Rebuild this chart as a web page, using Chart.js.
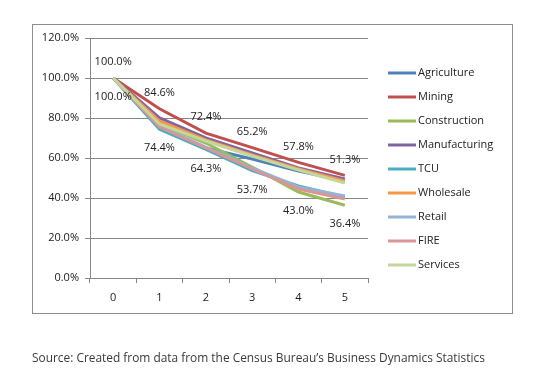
<!DOCTYPE html>
<html>
<head>
<meta charset="utf-8">
<script src="https://cdn.jsdelivr.net/npm/chart.js@4.4.0/dist/chart.umd.min.js"></script>
<style>
  html, body { margin: 0; padding: 0; background: #fff; }
  #wrap { position: relative; width: 548px; height: 376px; }
  #chart { position: absolute; left: 0; top: 0; }
  #source {
    position: absolute; left: 32px; top: 349px;
    font-family: "Open Sans", sans-serif; font-size: 11.9px; color: #3a3a3a;
    white-space: nowrap;
  }
</style>
</head>
<body>
<div id="wrap">
  <canvas id="chart" width="548" height="376"></canvas>
  <div id="source">Source: Created from data from the Census Bureau’s Business Dynamics Statistics</div>
</div>
<script>
const years = ['0', '1', '2', '3', '4', '5'];

const agriculture   = [100, 75.5, 65.0, 59.5, 53.5, 48.5];
const mining        = [100, 84.6, 72.4, 65.2, 57.8, 51.3];
const construction  = [100, 77.0, 67.5, 55.5, 43.0, 36.4];
const manufacturing = [100, 80.0, 70.0, 62.5, 55.0, 49.5];
const tcu           = [100, 74.4, 64.3, 53.7, 46.0, 40.5];
const wholesale     = [100, 78.5, 69.0, 61.5, 54.5, 48.5];
const retail        = [100, 76.0, 65.5, 55.0, 45.5, 41.0];
const fire          = [100, 75.5, 65.0, 54.5, 44.5, 39.5];
const services      = [100, 77.0, 68.5, 61.0, 54.0, 47.5];

// labels written on the chart: highest and lowest value at each year
const highLabels = [100, 84.6, 72.4, 65.2, 57.8, 51.3];
const lowLabels  = [100, 74.4, 64.3, 53.7, 43.0, 36.4];

const seriesNames = ['Agriculture', 'Mining', 'Construction', 'Manufacturing', 'TCU',
                     'Wholesale', 'Retail', 'FIRE', 'Services'];
const seriesData = [agriculture, mining, construction, manufacturing, tcu,
                    wholesale, retail, fire, services];
const colors = ['#4F81BD', '#C0504D', '#9BBB59', '#8064A2', '#4BACC6',
                '#F79646', '#95B3D7', '#D99694', '#C3D69B'];

const fontFamily = '"Open Sans", sans-serif';

const datasets = seriesNames.map((name, i) => {
    return {
        label: name,
        data: seriesData[i],
        borderColor: colors[i],
        backgroundColor: colors[i],
        borderWidth: 3,
        pointRadius: 0,
        tension: 0,
        order: seriesNames.length - 1 - i
    };
});

// frame around the chart, value labels and the legend
const extras = {
    id: 'extras',
    beforeDraw(chart) {
        const ctx = chart.ctx;
        ctx.save();
        ctx.fillStyle = '#fff';
        ctx.fillRect(0, 0, chart.width, chart.height);
        ctx.strokeStyle = '#8c8c8c';
        ctx.lineWidth = 1;
        ctx.strokeRect(32.5, 24.5, 480, 289);
        ctx.restore();
    },
    afterDatasetsDraw(chart) {
        const ctx = chart.ctx;
        const x = chart.scales.x;
        const y = chart.scales.y;
        ctx.save();
        ctx.font = '11px ' + fontFamily;
        ctx.fillStyle = '#222';
        ctx.textAlign = 'center';
        ctx.textBaseline = 'middle';
        years.forEach((yr, i) => {
            const px = x.getPixelForValue(i);
            ctx.fillText(highLabels[i].toFixed(1) + '%', px, y.getPixelForValue(highLabels[i]) - 16);
            ctx.fillText(lowLabels[i].toFixed(1) + '%', px, y.getPixelForValue(lowLabels[i]) + 19);
        });

        // legend
        ctx.textAlign = 'left';
        ctx.lineWidth = 3;
        seriesNames.forEach((name, i) => {
            const ly = 73 + i * 24;
            ctx.strokeStyle = colors[i];
            ctx.beginPath();
            ctx.moveTo(388, ly);
            ctx.lineTo(416, ly);
            ctx.stroke();
            ctx.fillText(name, 418, ly);
        });
        ctx.restore();
    }
};

new Chart(document.getElementById('chart'), {
    type: 'line',
    data: {
        labels: years,
        datasets: datasets
    },
    options: {
        responsive: false,
        animation: false,
        layout: {
            padding: { left: 32, top: 38, right: 180, bottom: 63 }
        },
        scales: {
            x: {
                offset: true,
                afterFit(scale) { scale.height = 35; },
                grid: {
                    offset: true,
                    drawOnChartArea: false,
                    tickLength: 5,
                    color: '#868686'
                },
                border: { color: '#868686' },
                ticks: {
                    color: '#222',
                    padding: 8,
                    font: { family: fontFamily, size: 11 }
                }
            },
            y: {
                min: 0,
                max: 120,
                afterFit(scale) { scale.width = 58; },
                grid: {
                    tickLength: 5,
                    color: '#868686'
                },
                border: { color: '#868686' },
                ticks: {
                    stepSize: 20,
                    color: '#222',
                    padding: 6,
                    font: { family: fontFamily, size: 11 },
                    callback: v => v.toFixed(1) + '%'
                }
            }
        },
        plugins: {
            legend: { display: false },
            tooltip: { enabled: false }
        }
    },
    plugins: [extras]
});
</script>
</body>
</html>
